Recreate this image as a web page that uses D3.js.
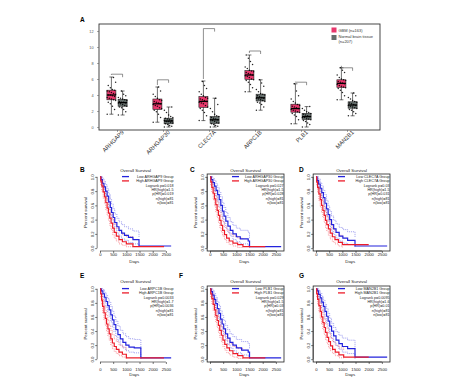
<!DOCTYPE html>
<html>
<head>
<meta charset="utf-8">
<script src="https://cdn.jsdelivr.net/npm/d3@7"></script>
<style>
  body { margin: 0; background: #fff; }
  svg { display: block; font-family: "Liberation Sans", Arial, sans-serif; }
</style>
</head>
<body>
<div class="chart"></div>
<script>
// ---- panel A data (log2 expression) ----
const genes = ["ARHGAP9", "ARHGAP30", "CLEC7A", "ARPC1B", "PLB1", "MAN2B1"];
const yTicksA = [0, 2, 4, 6, 8, 10, 12];
// [whisker low, q1, median, q3, whisker high]
const gbmBox = [
  [1.6, 3.4, 4.0, 4.6, 6.25],
  [0.6, 2.2, 2.9, 3.5, 5.0],
  [0.8, 2.45, 3.2, 3.8, 5.75],
  [4.4, 5.95, 6.5, 7.05, 9.0],
  [0.4, 1.85, 2.3, 2.85, 5.4],
  [3.4, 4.95, 5.45, 5.9, 7.4]
];
const normalBox = [
  [1.5, 2.6, 3.05, 3.45, 4.5],
  [0.0, 0.4, 0.75, 1.1, 2.5],
  [0.0, 0.45, 0.9, 1.3, 3.6],
  [2.1, 3.25, 3.65, 4.1, 5.9],
  [0.0, 0.95, 1.3, 1.7, 2.55],
  [1.4, 2.35, 2.75, 3.15, 4.25]
];
const gbmPts = [
  [1.6, 2.2, 2.6, 2.9, 3.1, 3.3, 3.4, 3.5, 3.6, 3.7, 3.8, 3.9, 4.0, 4.0, 4.1, 4.2, 4.3, 4.4, 4.5, 4.6, 4.7, 4.9, 5.2, 5.6, 6.2],
  [0.6, 1.2, 1.6, 1.9, 2.1, 2.3, 2.4, 2.6, 2.7, 2.8, 2.9, 3.0, 3.1, 3.2, 3.3, 3.4, 3.6, 3.8, 4.1, 4.5, 5.0],
  [0.8, 1.4, 1.8, 2.1, 2.3, 2.5, 2.7, 2.9, 3.0, 3.1, 3.2, 3.3, 3.4, 3.5, 3.6, 3.7, 3.9, 4.1, 4.4, 4.8, 5.2, 5.7],
  [4.4, 4.9, 5.3, 5.6, 5.8, 5.9, 6.0, 6.2, 6.3, 6.4, 6.5, 6.6, 6.7, 6.8, 6.9, 7.0, 7.1, 7.3, 7.5, 7.8, 8.2, 8.6, 9.0],
  [0.4, 0.9, 1.3, 1.5, 1.7, 1.8, 1.9, 2.0, 2.1, 2.2, 2.3, 2.4, 2.5, 2.6, 2.7, 2.8, 3.0, 3.2, 3.5, 3.9, 4.5, 5.4],
  [3.4, 3.9, 4.3, 4.6, 4.8, 4.9, 5.0, 5.1, 5.2, 5.3, 5.4, 5.5, 5.6, 5.7, 5.8, 5.9, 6.0, 6.2, 6.5, 6.8, 7.1, 7.4]
];
const normalPts = [
  [1.5, 1.9, 2.2, 2.4, 2.5, 2.6, 2.7, 2.8, 2.9, 3.0, 3.0, 3.1, 3.1, 3.2, 3.3, 3.4, 3.5, 3.6, 3.7, 3.9, 4.1, 4.5],
  [0.0, 0.1, 0.2, 0.3, 0.4, 0.5, 0.6, 0.7, 0.7, 0.8, 0.8, 0.9, 1.0, 1.1, 1.2, 1.3, 1.5, 1.8, 2.1, 2.5],
  [0.0, 0.1, 0.2, 0.3, 0.4, 0.5, 0.6, 0.7, 0.8, 0.9, 0.9, 1.0, 1.1, 1.2, 1.3, 1.4, 1.6, 1.9, 2.3, 2.8, 3.6],
  [2.1, 2.5, 2.8, 3.0, 3.1, 3.2, 3.3, 3.4, 3.5, 3.6, 3.6, 3.7, 3.8, 3.9, 4.0, 4.1, 4.2, 4.4, 4.7, 5.1, 5.5, 5.9],
  [0.0, 0.3, 0.5, 0.7, 0.8, 0.9, 1.0, 1.1, 1.2, 1.2, 1.3, 1.4, 1.5, 1.6, 1.7, 1.8, 1.9, 2.1, 2.3, 2.55],
  [1.4, 1.7, 1.9, 2.1, 2.2, 2.3, 2.4, 2.5, 2.6, 2.7, 2.7, 2.8, 2.9, 3.0, 3.1, 3.2, 3.3, 3.5, 3.7, 3.9, 4.25]
];
const bracketY = [6.6, 5.9, 12.3, 9.5, 5.6, 7.4];
const legendA = ["GBM (n=163)", "Normal brain tissue", "(n=207)"];

// ---- survival panels: rows are [days, survival, lower CI, upper CI] ----
const bLow = [[0,1,1,1],[40,.96,.92,1],[90,.91,.85,.98],[150,.86,.79,.94],[210,.8,.72,.89],[270,.73,.64,.83],[330,.65,.55,.76],[390,.57,.47,.69],[440,.5,.4,.62],[500,.43,.33,.55],[560,.36,.27,.48],[640,.3,.21,.42],[720,.25,.17,.37],[820,.21,.13,.33],[930,.18,.11,.3],[1080,.15,.08,.27],[1250,.12,.06,.24],[1480,.03,.005,.15],[2700,.03,null,null]];
const bHigh = [[0,1,1,1],[30,.94,.89,.99],[70,.87,.8,.95],[120,.79,.7,.88],[170,.72,.62,.82],[220,.64,.54,.75],[270,.56,.46,.68],[320,.49,.39,.61],[370,.42,.32,.54],[420,.35,.26,.47],[480,.28,.19,.4],[540,.22,.14,.34],[620,.17,.1,.28],[720,.12,.06,.23],[850,.09,.04,.19],[1000,.06,.02,.16],[1250,.02,.003,.12],[2430,.02,null,null]];
const cLow = [[0,1,1,1],[50,.96,.92,1],[110,.92,.86,.98],[170,.87,.8,.95],[230,.81,.73,.9],[290,.75,.66,.85],[350,.68,.58,.79],[410,.6,.5,.72],[470,.52,.42,.64],[530,.45,.35,.57],[600,.38,.28,.5],[680,.31,.22,.43],[770,.25,.17,.37],[870,.2,.12,.32],[1000,.16,.09,.28],[1150,.13,.06,.25],[1450,.1,.04,.22],[1500,.02,.003,.14],[2700,.02,null,null]];
const cHigh = [[0,1,1,1],[30,.93,.88,.99],[70,.85,.78,.93],[120,.77,.68,.86],[170,.69,.59,.8],[220,.61,.51,.72],[270,.53,.43,.65],[320,.46,.36,.58],[370,.39,.29,.51],[420,.32,.23,.44],[480,.25,.17,.37],[550,.19,.12,.3],[630,.14,.08,.25],[730,.1,.05,.2],[870,.07,.03,.17],[1050,.05,.01,.14],[1250,.02,.003,.12],[2100,.02,null,null]];
const dLow = [[0,1,1,1],[40,.95,.9,1],[100,.9,.84,.97],[160,.84,.76,.92],[220,.78,.69,.87],[280,.71,.61,.81],[340,.63,.53,.75],[400,.55,.45,.67],[460,.47,.37,.59],[520,.4,.3,.52],[590,.33,.24,.45],[670,.27,.19,.39],[760,.22,.14,.34],[880,.17,.1,.29],[1020,.14,.07,.26],[1200,.11,.05,.23],[1480,.03,.005,.15],[2700,.03,null,null]];
const dHigh = [[0,1,1,1],[25,.93,.88,.99],[60,.85,.78,.93],[110,.76,.67,.86],[160,.68,.58,.79],[210,.6,.5,.71],[260,.53,.43,.65],[310,.46,.36,.58],[360,.39,.29,.51],[410,.33,.24,.45],[470,.27,.18,.39],[540,.21,.13,.33],[620,.16,.09,.27],[720,.12,.06,.22],[850,.08,.03,.18],[1000,.05,.01,.15],[2000,.05,null,null]];
const eLow = [[0,1,1,1],[50,.97,.93,1],[110,.93,.88,.99],[170,.88,.81,.95],[230,.82,.74,.91],[290,.76,.67,.86],[350,.7,.6,.81],[410,.63,.53,.75],[470,.56,.46,.68],[530,.49,.39,.61],[600,.42,.32,.54],[680,.35,.26,.47],[770,.29,.2,.41],[870,.24,.16,.36],[980,.2,.12,.32],[1100,.17,.1,.29],[1300,.16,.09,.28],[1550,.02,.003,.14],[2700,.02,null,null]];
const eHigh = [[0,1,1,1],[25,.93,.88,.99],[60,.84,.77,.92],[100,.75,.66,.85],[150,.66,.56,.77],[200,.58,.48,.69],[250,.5,.4,.62],[300,.43,.33,.55],[350,.36,.27,.48],[410,.29,.2,.41],[470,.23,.15,.35],[540,.18,.11,.29],[620,.14,.08,.25],[720,.1,.05,.2],[850,.07,.03,.17],[1000,.02,.003,.12],[2430,.02,null,null]];
const fLow = [[0,1,1,1],[45,.96,.92,1],[100,.91,.85,.98],[160,.85,.78,.93],[220,.79,.71,.88],[280,.72,.63,.82],[340,.65,.55,.76],[400,.57,.47,.69],[460,.5,.4,.62],[520,.43,.33,.55],[590,.36,.27,.48],[670,.3,.21,.42],[760,.24,.16,.36],[870,.2,.12,.32],[1000,.16,.09,.28],[1200,.13,.06,.25],[1450,.1,.04,.22],[1500,.02,.003,.14],[2700,.02,null,null]];
const fHigh = [[0,1,1,1],[30,.93,.88,.99],[70,.86,.79,.94],[120,.78,.69,.87],[170,.7,.6,.81],[220,.62,.52,.73],[270,.55,.45,.67],[320,.48,.38,.6],[370,.41,.31,.53],[430,.34,.25,.46],[490,.27,.18,.39],[560,.21,.13,.33],[640,.16,.09,.27],[740,.12,.06,.22],[870,.08,.03,.18],[1050,.05,.01,.15],[1250,.02,.003,.12],[2100,.02,null,null]];
const gLow = [[0,1,1,1],[45,.97,.93,1],[100,.92,.86,.98],[160,.87,.8,.94],[220,.81,.73,.89],[280,.75,.66,.84],[340,.68,.58,.78],[400,.61,.51,.72],[460,.54,.44,.65],[520,.47,.37,.58],[590,.4,.3,.51],[670,.33,.24,.45],[760,.27,.19,.39],[870,.22,.14,.34],[1000,.18,.1,.3],[1200,.15,.08,.27],[1480,.03,.005,.15],[2700,.03,null,null]];
const gHigh = [[0,1,1,1],[25,.93,.88,.99],[60,.85,.78,.93],[110,.76,.67,.86],[160,.68,.58,.79],[210,.6,.5,.71],[260,.52,.42,.64],[310,.45,.35,.57],[360,.38,.28,.5],[420,.31,.22,.43],[480,.25,.16,.37],[550,.19,.12,.3],[630,.14,.08,.25],[730,.1,.05,.2],[870,.06,.02,.16],[1050,.03,.005,.13],[2000,.03,null,null]];

const kmLetters = ["B", "C", "D", "E", "F", "G"];
const kmLow = [bLow, cLow, dLow, eLow, fLow, gLow];
const kmHigh = [bHigh, cHigh, dHigh, eHigh, fHigh, gHigh];
const logrankP = ["0.018", "0.027", "0.03", "0.0033", "0.029", "0.0095"];
const hrHigh = ["1.5", "1.5", "1.5", "1.7", "1.5", "1.6"];
const pHR = ["0.019", "0.028", "0.031", "0.0036", "0.03", "0.01"];
const nHigh = [81, 81, 81, 81, 81, 81];
const nLow = [81, 81, 81, 81, 81, 81];
const kmXTicks = [0, 500, 1000, 1500, 2000, 2500];
const kmYTicks = [0, 0.2, 0.4, 0.6, 0.8, 1.0];

const width = 474, height = 388;
const pink = "#e8386d", grey = "#66706e";
const blue = "#2323dc", red = "#ec1c2a";

const svg = d3.select(".chart").append("svg")
  .attr("width", width).attr("height", height);
svg.append("rect").attr("width", width).attr("height", height).attr("fill", "#fff");

// ================= panel A =================
const frameA = { left: 99, right: 380, top: 24, bottom: 130 };
const xA = d3.scalePoint().domain(genes).range([117, 347]);
const yA = d3.scaleLinear().domain([0, 12]).range([127, 31]);
const off = 5.6, bw = 9;

svg.append("text").attr("x", 80).attr("y", 22).attr("font-size", 6.5)
  .attr("font-weight", "bold").text("A");

svg.append("rect")
  .attr("x", frameA.left).attr("y", frameA.top)
  .attr("width", frameA.right - frameA.left).attr("height", frameA.bottom - frameA.top)
  .attr("fill", "none").attr("stroke", "#333").attr("stroke-width", 0.9);

const yAxisA = svg.append("g")
  .attr("transform", `translate(${frameA.left},0)`)
  .call(d3.axisLeft(yA).tickValues(yTicksA).tickSize(2).tickPadding(3.5));
yAxisA.select(".domain").remove();
yAxisA.selectAll("line").attr("stroke", "#555").attr("stroke-width", 0.5);
yAxisA.selectAll("text").attr("font-size", 3.8).attr("fill", "#555");

const xAxisA = svg.append("g")
  .attr("transform", `translate(0,${frameA.bottom})`)
  .call(d3.axisBottom(xA).tickSize(2).tickSizeOuter(0));
xAxisA.select(".domain").remove();
xAxisA.selectAll("line").attr("stroke", "#555").attr("stroke-width", 0.5);
xAxisA.selectAll("text")
  .attr("font-size", 5.8).attr("fill", "#333")
  .attr("text-anchor", "end").attr("dy", 0).attr("y", 4)
  .attr("transform", "translate(4,0) rotate(-45)");

function drawBox(stats, pts, cx, fill) {
  const g = svg.append("g");
  g.append("line").attr("x1", cx).attr("x2", cx)
    .attr("y1", yA(stats[0])).attr("y2", yA(stats[4]))
    .attr("stroke", "#111").attr("stroke-width", 0.6);
  [stats[0], stats[4]].forEach(v => {
    g.append("line").attr("x1", cx - 2).attr("x2", cx + 2)
      .attr("y1", yA(v)).attr("y2", yA(v))
      .attr("stroke", "#111").attr("stroke-width", 0.6);
  });
  g.append("rect")
    .attr("x", cx - bw / 2).attr("y", yA(stats[3]))
    .attr("width", bw).attr("height", yA(stats[1]) - yA(stats[3]))
    .attr("fill", fill).attr("stroke", "#222").attr("stroke-width", 0.6);
  // jittered sample points
  g.selectAll("circle").data(pts).enter().append("circle")
    .attr("cx", (d, i) => cx + ((i * 7) % 9 - 4) * 1.05)
    .attr("cy", d => yA(d))
    .attr("r", 0.75)
    .attr("fill", "#000").attr("opacity", 0.85);
  g.append("line").attr("x1", cx - bw / 2).attr("x2", cx + bw / 2)
    .attr("y1", yA(stats[2])).attr("y2", yA(stats[2]))
    .attr("stroke", "#000").attr("stroke-width", 1.3);
}

genes.forEach((gname, i) => {
  const cx = xA(gname);
  drawBox(gbmBox[i], gbmPts[i], cx - off, pink);
  drawBox(normalBox[i], normalPts[i], cx + off, grey);
  const yb = yA(bracketY[i]);
  svg.append("path")
    .attr("d", `M${cx - off},${yA(gbmBox[i][4]) - 2}V${yb}H${cx + off}v3`)
    .attr("fill", "none").attr("stroke", "#444").attr("stroke-width", 0.6);
});

// legend A
const legA = svg.append("g").attr("font-size", 4).attr("fill", "#333");
legA.append("rect").attr("x", 331.5).attr("y", 27.5).attr("width", 5).attr("height", 5).attr("fill", pink);
legA.append("rect").attr("x", 331.5).attr("y", 35).attr("width", 5).attr("height", 5).attr("fill", grey);
legA.append("text").attr("x", 338.5).attr("y", 31.5).text(legendA[0]);
legA.append("text").attr("x", 338.5).attr("y", 38.2).text(legendA[1]);
legA.append("text").attr("x", 338.5).attr("y", 42.6).text(legendA[2]);

// ================= survival panels =================
const kmZeroX = [100, 210, 316];
const kmRows = [
  { top: 174, bottom: 251, letterY: 171.5, titleY: 172, tickY: 256, daysY: 263 },
  { top: 286, bottom: 362, letterY: 277.5, titleY: 283, tickY: 371, daysY: 376 }
];
const kmLetterX = [80, 190, 299, 80, 179, 299];
const kmFramed = [false, true, true, false, true, true];

function drawKM(k) {
  const col = k % 3, row = Math.floor(k / 3);
  const x0 = kmZeroX[col], R = kmRows[row];
  const x = d3.scaleLinear().domain([-108, 2808]).range([x0 - 2.85, x0 + 74]);
  const y = d3.scaleLinear().domain([-0.04, 1.04]).range([R.bottom, R.top]);
  const g = svg.append("g");

  g.append("text").attr("x", kmLetterX[k]).attr("y", R.letterY)
    .attr("font-size", 6.5).attr("font-weight", "bold").text(kmLetters[k]);
  g.append("text").attr("x", (x(-108) + x(2808)) / 2).attr("y", R.titleY)
    .attr("text-anchor", "middle").attr("font-size", 4.4).attr("fill", "#222")
    .text("Overall Survival");

  if (kmFramed[k]) {
    g.append("rect").attr("x", x(-108)).attr("y", R.top)
      .attr("width", x(2808) - x(-108)).attr("height", R.bottom - R.top)
      .attr("fill", "none").attr("stroke", "#222").attr("stroke-width", 0.8);
  }

  const ya = g.append("g").attr("transform", `translate(${x(-108)},0)`)
    .call(d3.axisLeft(y).tickValues(kmYTicks).tickSize(2).tickFormat(d3.format(".1f")));
  ya.select(".domain").remove();
  ya.append("line").attr("y1", y(0)).attr("y2", y(1)).attr("stroke", "#222").attr("stroke-width", 0.6);
  ya.selectAll(".tick line").attr("stroke", "#222").attr("stroke-width", 0.6);
  ya.selectAll(".tick text").attr("x", 0).attr("dy", 0)
    .attr("transform", "translate(-3.4,0) rotate(-90)")
    .attr("text-anchor", "middle").attr("font-size", 4.2).attr("fill", "#222");

  const xa = g.append("g").attr("transform", `translate(0,${R.bottom})`)
    .call(d3.axisBottom(x).tickValues(kmXTicks).tickSize(2).tickFormat(d3.format("d")));
  xa.select(".domain").remove();
  xa.append("line").attr("x1", x(0)).attr("x2", x(2500)).attr("stroke", "#222").attr("stroke-width", 0.6);
  xa.selectAll(".tick line").attr("stroke", "#222").attr("stroke-width", 0.6);
  xa.selectAll(".tick text").attr("y", R.tickY - R.bottom).attr("dy", 0)
    .attr("font-size", 4.2).attr("fill", "#222");

  g.append("text").attr("x", x(1300)).attr("y", R.daysY)
    .attr("text-anchor", "middle").attr("font-size", 4.4).attr("fill", "#222").text("Days");
  g.append("text")
    .attr("transform", `translate(${x0 - 13},${(y(0) + y(1)) / 2}) rotate(-90)`)
    .attr("text-anchor", "middle").attr("font-size", 4.4).attr("fill", "#222")
    .text("Percent survival");

  const step = (vi) => d3.line().curve(d3.curveStepAfter)
    .defined(d => d[vi] !== null)
    .x(d => x(d[0])).y(d => y(d[vi]));

  [[kmLow[k], blue], [kmHigh[k], red]].forEach(([data, c]) => {
    const ci = data.filter(d => d[2] !== null);
    [2, 3].forEach(vi => {
      g.append("path").attr("d", step(vi)(ci))
        .attr("fill", "none").attr("stroke", c).attr("stroke-width", 0.6)
        .attr("stroke-dasharray", "1,1").attr("opacity", 0.75);
    });
  });
  [[kmLow[k], blue], [kmHigh[k], red]].forEach(([data, c]) => {
    g.append("path").attr("d", step(1)(data))
      .attr("fill", "none").attr("stroke", c).attr("stroke-width", 1.2);
  });

  // legend
  const gene = genes[k];
  const lx = x0 + 22, rx = x0 + 73.5, ly = R.top + 2.6;
  const leg = g.append("g").attr("font-size", 3.7).attr("fill", "#222");
  leg.append("line").attr("x1", lx).attr("x2", lx + 7).attr("y1", ly).attr("y2", ly)
    .attr("stroke", blue).attr("stroke-width", 1.3);
  leg.append("line").attr("x1", lx).attr("x2", lx + 7).attr("y1", ly + 4.3).attr("y2", ly + 4.3)
    .attr("stroke", red).attr("stroke-width", 1.3);
  leg.append("text").attr("x", rx).attr("y", ly + 1.3).attr("text-anchor", "end")
    .text(`Low ${gene} Group`);
  leg.append("text").attr("x", rx).attr("y", ly + 5.6).attr("text-anchor", "end")
    .text(`High ${gene} Group`);
  const stats = [`Logrank p=${logrankP[k]}`, `HR(high)=${hrHigh[k]}`, `p(HR)=${pHR[k]}`,
                 `n(high)=${nHigh[k]}`, `n(low)=${nLow[k]}`];
  stats.forEach((s, j) => {
    leg.append("text").attr("x", rx).attr("y", ly + 10.2 + j * 4.3)
      .attr("text-anchor", "end").text(s);
  });
}

kmLetters.forEach((d, k) => drawKM(k));
</script>
</body>
</html>
